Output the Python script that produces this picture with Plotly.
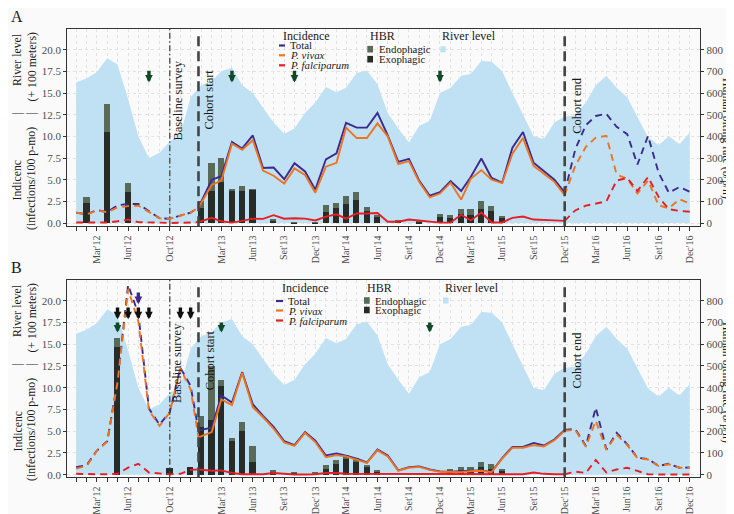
import plotly.graph_objects as go
import pandas as pd

FONT = "Liberation Serif, DejaVu Serif, serif"
W, H = 734, 514

# ---------------- data ----------------
month_starts = pd.date_range("2012-01-01", periods=60, freq="MS")
labelled_months = [2, 5, 9, 14, 17, 20, 23, 26, 29, 32, 35, 38, 41, 44, 47, 50, 53, 56, 59]
month_tick_labels = ["Mar'12", "Jun'12", "Oct'12", "Mar'13", "Jun'13", "Set'13", "Dec'13",
                     "Mar'14", "Jun'14", "Set'14", "Dec'14", "Mar'15", "Jun'15", "Set'15",
                     "Dec'15", "Mar'16", "Jun'16", "Set'16", "Dec'16"]

baseline_survey_date = "2012-10-01"
cohort_start_date = "2012-12-24"
cohort_end_date = "2015-12-01"

# river level (x 100 m), monthly Jan'12 .. Dec'16
river_level = [16.2, 16.7, 17.4, 19.0, 18.3, 14.3, 10.0, 7.5, 8.1, 9.4, 10.2, 14.5,
               15.9, 16.4, 17.5, 17.9, 15.9, 15.0, 13.3, 11.6, 10.3, 10.9, 12.7, 13.9,
               15.7, 15.1, 15.6, 17.3, 17.6, 16.0, 12.7, 10.9, 9.3, 11.2, 11.8, 15.0,
               15.6, 17.0, 17.2, 18.7, 18.6, 17.5, 15.0, 12.4, 10.0, 9.7, 11.6, 12.3,
               12.4, 13.9, 15.9, 17.0, 15.6, 14.5, 12.2, 9.9, 9.0, 10.0, 9.1, 10.4]

# x positions of the three incidence segments
pre_cohort_x = list(month_starts[:12]) + [pd.Timestamp(cohort_start_date)]
cohort_x = [pd.Timestamp(cohort_start_date)] + list(month_starts[13:48])
post_cohort_x = list(month_starts[47:])

# ---- Panel A incidence (infections / 100 p-mo)
A_pre_total = [1.2, 1.0, 1.5, 1.25, 2.05, 2.2, 2.2, 1.35, 0.55, 0.5, 0.9, 1.2, 1.8]
A_pre_vivax = [1.2, 1.0, 1.45, 1.25, 1.8, 1.95, 2.0, 1.3, 0.55, 0.5, 0.9, 1.2, 1.8]
A_pre_falc = [0.05, 0.03, 0.05, 0.05, 0.2, 0.4, 0.1, 0.1, 0.05, 0.0, 0.0, 0.05, 0.1]
A_total = [1.8, 5.0, 5.4, 9.35, 8.6, 10.1, 6.35, 6.4, 5.05, 6.9, 5.95, 3.85,
           7.35, 8.05, 11.55, 11.0, 11.0, 12.7, 10.1, 7.05, 7.4, 4.9, 3.15, 3.55,
           4.85, 3.7, 5.3, 7.45, 5.2, 4.65, 8.7, 10.5, 6.95, 5.95, 5.0, 3.5]
A_vivax = [1.8, 4.4, 4.9, 9.15, 8.45, 9.55, 6.05, 5.45, 4.55, 6.3, 5.55, 3.5,
           6.5, 6.95, 11.0, 9.8, 9.8, 11.5, 10.0, 6.8, 7.15, 4.75, 2.95, 3.4,
           4.65, 2.7, 5.1, 6.1, 5.0, 4.6, 8.0, 9.8, 6.6, 5.65, 4.75, 3.2]
A_falc = [0.1, 0.6, 0.2, 0.05, 0.25, 0.5, 0.48, 0.9, 0.5, 0.55, 0.5, 0.3,
          0.73, 1.0, 0.5, 1.1, 1.1, 1.15, 0.15, 0.15, 0.4, 0.3, 0.2, 0.04,
          0.05, 0.95, 0.3, 1.2, 0.06, 0.06, 0.6, 0.75, 0.4, 0.38, 0.3, 0.25]
A_post_total = [3.5, 8.5, 11.3, 12.35, 12.6, 11.1, 10.25, 6.75, 10.05, 5.8, 3.5, 4.15, 3.6]
A_post_vivax = [3.2, 6.6, 8.8, 9.85, 10.05, 5.6, 5.1, 3.4, 4.9, 2.05, 1.7, 2.75, 2.25]
A_post_falc = [0.25, 1.45, 2.0, 2.25, 2.5, 4.9, 5.2, 3.7, 5.3, 3.0, 1.6, 1.4, 1.3]

# ---- Panel B incidence
B_pre_total = [0.85, 1.1, 2.75, 3.85, 10.8, 21.8, 18.5, 7.6, 5.75, 7.2, 12.3, 10.2, 5.1]
B_pre_vivax = [0.7, 1.0, 2.7, 3.8, 10.6, 21.3, 17.6, 7.4, 5.6, 7.15, 12.2, 9.8, 4.3]
B_pre_falc = [0.1, 0.05, 0.05, 0.05, 0.1, 0.8, 1.25, 0.25, 0.15, 0.05, 0.1, 0.55, 0.6]
B_total = [5.1, 5.4, 9.1, 8.3, 11.8, 8.1, 6.75, 5.5, 3.85, 3.4, 4.9, 3.9,
           2.2, 2.45, 2.2, 1.85, 1.4, 2.9, 2.2, 0.5, 0.87, 0.95, 0.6, 0.38,
           0.33, 0.35, 0.45, 0.5, 0.32, 1.9, 3.2, 3.2, 3.65, 3.35, 4.05, 5.15]
B_vivax = [4.3, 4.9, 8.65, 8.0, 11.7, 7.75, 6.6, 5.3, 3.7, 3.3, 4.8, 3.75,
           2.0, 2.25, 2.1, 1.75, 1.35, 2.8, 2.1, 0.45, 0.8, 0.9, 0.55, 0.33,
           0.28, 0.3, 0.4, 0.45, 0.28, 1.85, 3.1, 3.1, 3.4, 3.25, 3.95, 5.05]
B_falc = [0.6, 0.45, 0.5, 0.2, 0.05, 0.03, 0.05, 0.2, 0.1, 0.02, 0.02, 0.05,
          0.2, 0.2, 0.1, 0.1, 0.02, 0.05, 0.05, 0.02, 0.02, 0.02, 0.02, 0.02,
          0.02, 0.02, 0.02, 0.05, 0.02, 0.02, 0.05, 0.05, 0.25, 0.1, 0.05, 0.05]
B_post_total = [5.15, 5.25, 3.3, 7.7, 2.9, 4.8, 3.5, 1.95, 1.8, 1.0, 1.25, 0.8, 0.82]
B_post_vivax = [5.05, 5.15, 3.2, 6.2, 2.85, 4.6, 3.4, 1.9, 1.75, 1.0, 1.2, 0.8, 0.8]
B_post_falc = [0.05, 0.35, 0.2, 1.7, 0.25, 0.6, 0.8, 0.4, 0.05, 0.02, 0.02, 0.02, 0.02]

# ---- HBR bars (bites / person / night), month index from Jan'12
A_bar_months = [1, 3, 5, 12, 13, 14, 15, 16, 17, 19, 21, 23, 24, 25, 26, 27, 28, 29,
                31, 33, 35, 36, 37, 38, 39, 40, 41]
A_exophagic = [96, 423, 143, 72, 149, 189, 150, 150, 155, 12, 5, 4, 52, 71, 88, 106, 57, 28,
               12, 8, 28, 25, 45, 40, 64, 56, 23]
A_endophagic = [27, 128, 45, 30, 131, 111, 8, 20, 2, 4, 1, 1, 31, 23, 37, 37, 17, 12,
                2, 1, 17, 15, 20, 25, 40, 26, 13]
B_bar_months = [4, 9, 11, 12, 13, 14, 15, 16, 17, 19, 21, 23, 24, 25, 26, 27, 28, 29,
                36, 37, 38, 39, 40, 41]
B_exophagic = [588, 31, 36, 220, 252, 407, 155, 202, 62, 17, 10, 8, 28, 51, 74, 61, 40, 12,
               17, 22, 25, 37, 28, 17]
B_endophagic = [44, 0, 0, 53, 250, 28, 15, 42, 72, 3, 2, 2, 19, 18, 19, 18, 5, 13,
                9, 13, 14, 21, 24, 11]

# ---- arrows (month index)
A_green_arrows = [7, 15, 21, 35]
B_green_arrows = [4, 14, 34]
B_black_arrows = [4, 5, 6, 7, 10, 11]
B_purple_arrows = [6]

HBR_PER_UNIT = 40.0   # right axis = 40 x left axis

# ---------------- styling ----------------
C_TOTAL = "#3d2a8e"
C_VIVAX = "#ee7420"
C_FALC = "#e41f26"
C_ENDO = "#5a6a59"
C_EXO = "#272c26"
C_RIVER = "#bfe1f3"
C_GREEN = "#0f4a27"
C_VLINE = "#444444"
C_TICK = "#4d4d4d"
C_TEXT = "#1a1a1a"

PLOT_L, PLOT_R = 59.3, 692.3
PANEL_TOP = {"A": 20.7, "B": 271.7}
PANEL_BOT = {"A": 218.3, "B": 469.3}
Y_RANGE = {"A": [-0.38, 22.42], "B": [-0.30, 22.41]}
X_RANGE = ["2011-12-06", "2017-01-01"]
DASH = "7px,5px"


def px_x(x):
    return x / W


def px_y(y):
    return 1 - y / H


fig = go.Figure()
annotations = []
shapes = []

panels = [
    dict(key="A", xa="x", ya="y", ya_bar="y2", ya_line="y5",
         pre=(A_pre_total, A_pre_vivax, A_pre_falc),
         coh=(A_total, A_vivax, A_falc),
         post=(A_post_total, A_post_vivax, A_post_falc),
         bars=(A_bar_months, A_exophagic, A_endophagic),
         arrows=[(A_green_arrows, C_GREEN, 17.75, 16.2)],
         labels=dict(base=14.1, cstart=14.3, cend=13.6),
         leg=dict(inc=(273.3, 28, 271.0, 277.0, 280.3, [37.5, 47.3, 57.3]),
                  hbr=(359.5, 28, 359.3, 365.0, 368.5, [41.2, 51.2]),
                  riv=(431.7, 28, 432.3, 437.7, 41.3)),
         ytitle_dy=0, rtitle_y=130),
    dict(key="B", xa="x2", ya="y3", ya_bar="y4", ya_line="y6",
         pre=(B_pre_total, B_pre_vivax, B_pre_falc),
         coh=(B_total, B_vivax, B_falc),
         post=(B_post_total, B_post_vivax, B_post_falc),
         bars=(B_bar_months, B_exophagic, B_endophagic),
         arrows=[(B_green_arrows, C_GREEN, 17.67, 16.33),
                 (B_black_arrows, "#111111", 19.4, 17.86),
                 (B_purple_arrows, C_TOTAL, 21.1, 19.6)],
         labels=dict(base=12.8, cstart=13.2, cend=13.2),
         leg=dict(inc=(271.7, 280, 268.0, 275.0, 277.5, [293, 302.5, 312.5]),
                  hbr=(356.7, 280, 356.0, 361.7, 364.8, [292.5, 302]),
                  riv=(435.0, 280, 435.0, 440.5, 292.5)),
         ytitle_dy=251, rtitle_y=374),
]

for p in panels:
    xa, ya, yb, yl = p["xa"], p["ya"], p["ya_bar"], p["ya_line"]
    # river level area (base subplot)
    fig.add_trace(go.Scatter(x=month_starts, y=river_level, mode="lines", fill="tozeroy",
                             fillcolor=C_RIVER, line=dict(width=0, color=C_RIVER),
                             xaxis=xa, yaxis=ya, showlegend=False, hoverinfo="skip"))
    # HBR stacked bars on the right (b/p/n) axis
    bm, exo, endo = p["bars"]
    bdates = [month_starts[m] for m in bm]
    fig.add_trace(go.Bar(x=bdates, y=exo, marker=dict(color=C_EXO, line=dict(width=0)),
                         width=1.55e9, xaxis=xa, yaxis=yb, showlegend=False, hoverinfo="skip"))
    fig.add_trace(go.Bar(x=bdates, y=endo, marker=dict(color=C_ENDO, line=dict(width=0)),
                         width=1.55e9, xaxis=xa, yaxis=yb, showlegend=False, hoverinfo="skip"))
    # incidence lines on a hidden overlay axis matching the left scale
    for xs, vals, dash in [(pre_cohort_x, p["pre"], DASH), (cohort_x, p["coh"], "solid"),
                           (post_cohort_x, p["post"], DASH)]:
        for v, c in zip(vals, [C_TOTAL, C_VIVAX, C_FALC]):
            fig.add_trace(go.Scatter(x=xs, y=v, mode="lines",
                                     line=dict(color=c, width=1.9, dash=dash),
                                     xaxis=xa, yaxis=yl, showlegend=False, hoverinfo="skip"))
    # vertical reference lines
    yr = Y_RANGE[p["key"]]
    shapes.append(dict(type="line", xref=xa, yref=ya + " domain", x0=baseline_survey_date,
                       x1=baseline_survey_date, y0=0, y1=1,
                       line=dict(color=C_VLINE, width=1.3, dash="6px,2.5px,1.5px,2.5px")))
    for d in [cohort_start_date, cohort_end_date]:
        shapes.append(dict(type="line", xref=xa, yref=ya, x0=d, x1=d, y0=yr[0], y1=21.6,
                           line=dict(color=C_VLINE, width=2.6, dash="10px,5px")))
    lab = p["labels"]
    for d, txt, yv, sh in [(baseline_survey_date, "Baseline survey", lab["base"], -1),
                           (cohort_start_date, "Cohort start", lab["cstart"], 2),
                           (cohort_end_date, "Cohort end", lab["cend"], 3)]:
        annotations.append(dict(x=d, y=yv, xref=xa, yref=ya, text=txt, showarrow=False,
                                textangle=-90, xanchor="left", yanchor="middle", xshift=sh,
                                font=dict(family=FONT, size=12.5, color=C_TEXT)))
    # arrows
    for months_list, col, tail, tip in p["arrows"]:
        for m in months_list:
            d = month_starts[m]
            annotations.append(dict(x=d, y=tip, ax=d, ay=tail, xref=xa, yref=ya, axref=xa, ayref=ya,
                                    text="", showarrow=True, arrowhead=2, arrowsize=0.45,
                                    arrowwidth=3.4, arrowcolor=col))
    # manual legend
    lg = p["leg"]
    tx, ty, k0, k1, lx, ys = lg["inc"]
    annotations.append(dict(x=px_x(tx), y=px_y(ty), xref="paper", yref="paper", text="Incidence",
                            showarrow=False, xanchor="left", yanchor="middle",
                            font=dict(family=FONT, size=12, color=C_TEXT)))
    for yy, col, txt in zip(ys, [C_TOTAL, C_VIVAX, C_FALC], ["Total", "<i>P. vivax</i>", "<i>P. falciparum</i>"]):
        shapes.append(dict(type="line", xref="paper", yref="paper", x0=px_x(k0), x1=px_x(k1),
                           y0=px_y(yy), y1=px_y(yy), line=dict(color=col, width=2.2)))
        annotations.append(dict(x=px_x(lx), y=px_y(yy), xref="paper", yref="paper", text=txt,
                                showarrow=False, xanchor="left", yanchor="middle",
                                font=dict(family=FONT, size=10.8, color=C_TEXT)))
    tx, ty, k0, k1, lx, ys = lg["hbr"]
    annotations.append(dict(x=px_x(tx), y=px_y(ty), xref="paper", yref="paper", text="HBR",
                            showarrow=False, xanchor="left", yanchor="middle",
                            font=dict(family=FONT, size=12, color=C_TEXT)))
    for yy, col, txt in zip(ys, [C_ENDO, C_EXO], ["Endophagic", "Exophagic"]):
        shapes.append(dict(type="rect", xref="paper", yref="paper", x0=px_x(k0), x1=px_x(k1),
                           y0=px_y(yy + 3.3), y1=px_y(yy - 3.3), line=dict(width=0), fillcolor=col))
        annotations.append(dict(x=px_x(lx), y=px_y(yy), xref="paper", yref="paper", text=txt,
                                showarrow=False, xanchor="left", yanchor="middle",
                                font=dict(family=FONT, size=10.8, color=C_TEXT)))
    tx, ty, k0, k1, ky = lg["riv"]
    annotations.append(dict(x=px_x(tx), y=px_y(ty), xref="paper", yref="paper", text="River level",
                            showarrow=False, xanchor="left", yanchor="middle",
                            font=dict(family=FONT, size=12, color=C_TEXT)))
    shapes.append(dict(type="rect", xref="paper", yref="paper", x0=px_x(k0), x1=px_x(k1),
                       y0=px_y(ky + 3.0), y1=px_y(ky - 3.0), line=dict(width=0), fillcolor=C_RIVER))
    # panel letter
    annotations.append(dict(x=px_x(8.5), y=px_y(PANEL_TOP[p["key"]] - 12.5), xref="paper", yref="paper",
                            text=p["key"], showarrow=False, xanchor="center", yanchor="middle",
                            font=dict(family=FONT, size=16, color=C_TEXT)))
    # left axis title pieces
    dy = p["ytitle_dy"]
    for xx, yy, txt in [(9, 52, "River level"), (9, 106, "|"), (9, 172.5, "Indicenc"),
                        (23, 58.5, "(+ 100 meters)"), (23, 106, "|"), (23, 171, "(infections/100 p-mo)")]:
        annotations.append(dict(x=px_x(xx), y=px_y(yy + dy), xref="paper", yref="paper", text=txt,
                                showarrow=False, textangle=-90, xanchor="center", yanchor="middle",
                                font=dict(family=FONT, size=11.8, color=C_TEXT)))
    # right axis title
    annotations.append(dict(x=px_x(719), y=px_y(p["rtitle_y"]), xref="paper", yref="paper",
                            text="Human biting rate (b/p/n)", showarrow=False, textangle=90,
                            xanchor="center", yanchor="middle", borderpad=0,
                            font=dict(family=FONT, size=11.8, color=C_TEXT)))

# ---------------- axes ----------------
tickvals = list(month_starts)
ticktext = [""] * len(month_starts)
for m, t in zip(labelled_months, month_tick_labels):
    ticktext[m] = t

x_common = dict(type="date", range=X_RANGE, domain=[px_x(PLOT_L), px_x(PLOT_R)],
                tickmode="array", tickvals=tickvals, ticktext=ticktext, tickangle=-90,
                ticks="outside", ticklen=4, tickwidth=1, tickcolor="#333333",
                tickfont=dict(family=FONT, size=10, color=C_TICK),
                showline=True, linecolor="#333333", linewidth=1.2, mirror=True,
                showgrid=True, gridcolor="#e2e2e2", griddash="dot", gridwidth=1,
                zeroline=False, automargin=False, fixedrange=True)
y_common = dict(tickmode="linear", tick0=0, dtick=2.5, tickformat=".1f",
                ticks="outside", ticklen=3, tickwidth=1, tickcolor="#333333",
                tickfont=dict(family=FONT, size=11, color=C_TICK),
                showline=True, linecolor="#333333", linewidth=1.2, mirror=True,
                showgrid=True, gridcolor="#e2e2e2", griddash="dot", gridwidth=1,
                zeroline=False, automargin=False, fixedrange=True)
y2_common = dict(tickmode="linear", tick0=0, dtick=100, side="right",
                 ticks="outside", ticklen=3, tickwidth=1, tickcolor="#333333",
                 tickfont=dict(family=FONT, size=11, color=C_TICK),
                 showline=False, showgrid=False, zeroline=False, automargin=False, fixedrange=True)
y_hidden = dict(visible=False, showgrid=False, zeroline=False, fixedrange=True)

layout = dict(
    width=W, height=H, margin=dict(l=0, r=0, t=0, b=0),
    paper_bgcolor="#fafafa", plot_bgcolor="#fafafa",
    barmode="stack", bargap=0, showlegend=False,
    font=dict(family=FONT, color=C_TEXT),
    xaxis=dict(x_common, anchor="y"),
    xaxis2=dict(x_common, anchor="y3"),
    yaxis=dict(y_common, anchor="x", range=Y_RANGE["A"],
               domain=[px_y(PANEL_BOT["A"]), px_y(PANEL_TOP["A"])]),
    yaxis2=dict(y2_common, anchor="x", overlaying="y",
                range=[v * HBR_PER_UNIT for v in Y_RANGE["A"]]),
    yaxis5=dict(y_hidden, anchor="x", overlaying="y", range=Y_RANGE["A"]),
    yaxis3=dict(y_common, anchor="x2", range=Y_RANGE["B"],
                domain=[px_y(PANEL_BOT["B"]), px_y(PANEL_TOP["B"])]),
    yaxis4=dict(y2_common, anchor="x2", overlaying="y3",
                range=[v * HBR_PER_UNIT for v in Y_RANGE["B"]]),
    yaxis6=dict(y_hidden, anchor="x2", overlaying="y3", range=Y_RANGE["B"]),
    annotations=annotations,
    shapes=shapes,
)
fig.update_layout(**layout)
fig.write_html("out.html")
